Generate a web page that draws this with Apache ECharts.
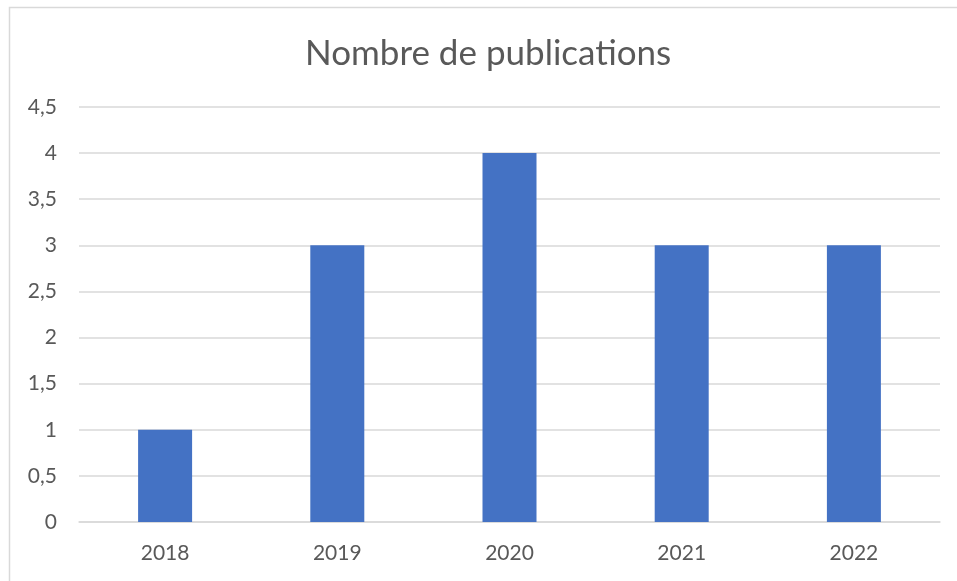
<!DOCTYPE html>
<html>
<head>
<meta charset="utf-8">
<script src="https://cdn.jsdelivr.net/npm/echarts@6/dist/echarts.min.js"></script>
<style>
  html, body { margin: 0; padding: 0; background: #fff; }
  #main { width: 957px; height: 581px; }
</style>
</head>
<body>
<div id="main"></div>
<script>
// données
const years = ['2018', '2019', '2020', '2021', '2022']
const publications = [1, 3, 4, 3, 3]

const chart = echarts.init(document.getElementById('main'))
const textColor = '#595959'
const gridColor = '#d9d9d9'

chart.setOption({
  backgroundColor: '#fff',
  textStyle: { fontFamily: 'Lato' },
  title: {
    text: 'Nombre de publications',
    left: 300,
    top: 31,
    textStyle: { fontFamily: 'Lato', fontSize: 35, fontWeight: 'normal', color: textColor }
  },
  graphic: [{
    type: 'rect',
    shape: { x: 9.5, y: 7.5, width: 980, height: 620 },
    style: { fill: 'none', stroke: gridColor, lineWidth: 1.5 },
    silent: true
  }],
  grid: { left: 79, right: 17, top: 107, bottom: 59 },
  xAxis: {
    type: 'category',
    data: years,
    axisTick: { show: false },
    axisLine: { lineStyle: { color: gridColor, width: 1.5 } },
    axisLabel: { color: textColor, fontSize: 21, margin: 21, fontFamily: 'Lato' }
  },
  yAxis: {
    type: 'value',
    min: 0,
    max: 4.5,
    interval: 0.5,
    axisLine: { show: false },
    axisTick: { show: false },
    splitLine: { lineStyle: { color: gridColor, width: 1.5 } },
    axisLabel: {
      color: textColor,
      fontSize: 21,
      margin: 22,
      fontFamily: 'Lato',
      formatter: v => String(v).replace('.', ',')
    }
  },
  series: [{
    type: 'bar',
    data: publications,
    barWidth: 54,
    itemStyle: { color: '#4472c4' }
  }]
})
</script>
</body>
</html>
